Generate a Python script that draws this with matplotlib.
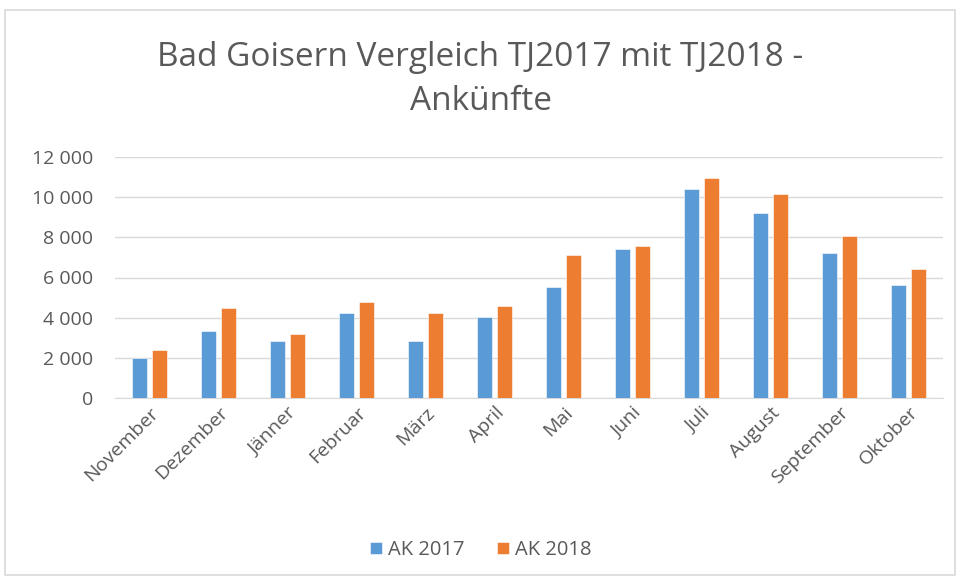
import numpy as np
import matplotlib
matplotlib.use("Agg")
import matplotlib.pyplot as plt
from matplotlib.patches import Rectangle
from matplotlib.ticker import FuncFormatter

months = ["November", "Dezember", "Jänner", "Februar", "März", "April",
          "Mai", "Juni", "Juli", "August", "September", "Oktober"]
ak_2017 = [2000, 3340, 2820, 4230, 2820, 4030, 5510, 7420, 10420, 9230, 7240, 5640]
ak_2018 = [2370, 4500, 3200, 4800, 4230, 4560, 7100, 7550, 10940, 10170, 8070, 6410]
series_names = ["AK 2017", "AK 2018"]

BLUE = "#5B9BD5"
ORANGE = "#ED7D31"
TEXT = "#595959"

plt.rcParams["font.family"] = ["Open Sans", "DejaVu Sans"]

fig = plt.figure(figsize=(9.61, 5.81), dpi=100)
fig.patches.append(Rectangle((5 / 961, 6 / 581), 950 / 961, 565 / 581,
                             transform=fig.transFigure, fill=False,
                             edgecolor="#D9D9D9", linewidth=1.2))

ax = fig.add_axes([115 / 961, 1 - 398 / 581, 828 / 961, 241 / 581])
x = np.arange(len(months))
w = 0.22
ax.bar(x - 0.14, ak_2017, w, color=BLUE, edgecolor="white", linewidth=0.4, label=series_names[0], zorder=3)
ax.bar(x + 0.14, ak_2018, w, color=ORANGE, edgecolor="white", linewidth=0.4, label=series_names[1], zorder=3)

ax.set_xlim(-0.5, len(months) - 0.5)
ax.set_ylim(0, 12000)
ax.set_yticks(range(0, 12001, 2000))
ax.yaxis.set_major_formatter(FuncFormatter(lambda v, p: f"{int(v):,}".replace(",", " ")))
ax.grid(axis="y", color="#D9D9D9", linewidth=1, zorder=0)
for s in ["top", "right", "left"]:
    ax.spines[s].set_visible(False)
ax.spines["bottom"].set_color("#D9D9D9")
ax.tick_params(axis="both", length=0, colors=TEXT, labelsize=14)
ax.tick_params(axis="y", pad=16)
ax.tick_params(axis="x", pad=4)
ax.set_xticks(x)
ax.set_xticklabels(months, rotation=45, ha="right", rotation_mode="anchor")

fig.text(0.5, 1 - 57 / 581, "Bad Goisern Vergleich TJ2017 mit TJ2018 -", ha="center", va="center",
         fontsize=24, color=TEXT)
fig.text(0.5, 1 - 101 / 581, "Ankünfte", ha="center", va="center", fontsize=24, color=TEXT)

fig.legend(loc="center", bbox_to_anchor=(0.5, 1 - 550 / 581), ncol=2, frameon=False,
           fontsize=14.5, labelcolor=TEXT, handlelength=0.6, handleheight=0.6,
           columnspacing=1.6, handletextpad=0.3)

fig.savefig("out.png", dpi=100)
